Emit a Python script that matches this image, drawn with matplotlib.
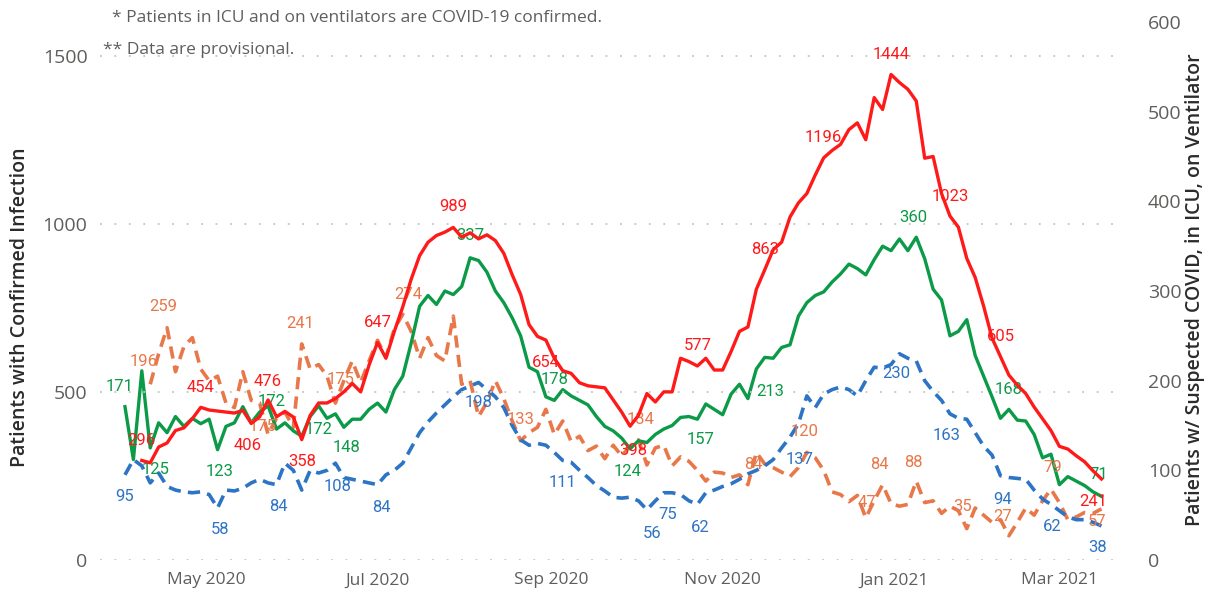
import numpy as np
import pandas as pd
import matplotlib
matplotlib.use("Agg")
import matplotlib.pyplot as plt
import matplotlib.dates as mdates

plt.rcParams['font.family'] = ['Open Sans', 'DejaVu Sans']

nan = np.nan
# ---------------- data (sampled every 3 days) ----------------
start_date = "2020-04-02"
n_points = 117

confirmed = [nan, nan, 296, 289, 336, 348, 385, 393, 420, 454, 446, 443, 440, 437, 445, 406,
             426, 476, 426, 442, 425, 358, 430, 467, 467, 480, 500, 525, 500, 580, 647, 600,
             680, 753, 835, 905, 945, 965, 975, 989, 960, 973, 955, 967, 950, 912, 848, 790,
             700, 665, 654, 600, 563, 555, 527, 518, 515, 512, 476, 440, 398, 430, 495, 470,
             500, 500, 600, 590, 577, 600, 565, 565, 620, 680, 693, 805, 863, 923, 945, 1020,
             1062, 1090, 1145, 1196, 1218, 1236, 1280, 1300, 1250, 1375, 1340, 1444, 1420, 1400,
             1365, 1195, 1200, 1090, 1023, 990, 897, 840, 755, 660, 605, 550, 520, 495, 455, 420,
             385, 338, 330, 310, 292, 265, 241]

icu = [171, 112, 211, 125, 153, 142, 160, 149, 158, 152, 157, 123, 149, 153, 171, 153, 165,
       172, 146, 153, 144, 138, 160, 172, 158, 163, 148, 157, 157, 168, 175, 165, 190, 205,
       242, 283, 295, 285, 300, 296, 305, 337, 334, 321, 300, 287, 270, 250, 215, 210, 182,
       178, 190, 183, 178, 173, 160, 149, 144, 136, 124, 133, 131, 140, 146, 150, 159, 160,
       157, 174, 168, 162, 185, 196, 180, 213, 226, 225, 237, 240, 272, 287, 295, 299, 310,
       319, 330, 325, 318, 335, 350, 345, 358, 345, 360, 336, 302, 290, 250, 255, 268, 228,
       205, 182, 158, 168, 156, 155, 140, 114, 118, 84, 93, 88, 83, 76, 71]

ventilator = [95, 112, 105, 86, 97, 82, 78, 76, 75, 76, 73, 58, 78, 77, 80, 86, 90, 86, 84,
              108, 100, 78, 100, 97, 100, 108, 92, 90, 88, 86, 84, 95, 100, 108, 125, 142, 154,
              164, 173, 182, 190, 194, 198, 190, 182, 170, 150, 134, 128, 130, 128, 120, 111,
              109, 100, 92, 83, 77, 70, 69, 70, 66, 56, 66, 75, 75, 73, 66, 62, 75, 78, 82, 85,
              90, 96, 100, 105, 112, 125, 137, 152, 183, 170, 185, 190, 193, 190, 183, 200, 215,
              214, 218, 230, 225, 222, 200, 188, 178, 163, 158, 157, 142, 127, 117, 94, 92, 91,
              90, 78, 68, 62, 55, 48, 45, 45, 42, 38]

suspected = [nan, nan, nan, 196, 230, 259, 210, 238, 248, 213, 200, 205, 175, 170, 210, 178,
             175, 140, 158, 165, 148, 241, 213, 218, 205, 175, 200, 222, 198, 222, 245, 226,
             258, 274, 255, 225, 248, 228, 222, 272, 196, 200, 160, 176, 200, 180, 155, 133,
             142, 148, 168, 140, 155, 132, 138, 122, 127, 113, 128, 116, 127, 134, 106, 125,
             128, 105, 115, 110, 100, 88, 98, 97, 92, 95, 84, 120, 107, 103, 98, 93, 103, 120,
             114, 100, 76, 73, 65, 72, 47, 66, 84, 63, 60, 62, 88, 64, 66, 52, 60, 55, 35, 58,
             50, 42, 45, 27, 42, 58, 50, 66, 79, 64, 45, 48, 53, 52, 57]

# labelled points: (index, dx px, dy px)
confirmed_labels = [(2, 0, 20), (9, 0, 20), (15, -4, -22), (17, 0, 18), (21, 0, -22), (30, 0, 20),
                    (39, 0, 21), (50, 0, -22), (60, 3, -24), (68, 0, 20), (76, 0, 20), (83, 0, 20),
                    (91, 0, 20), (98, 0, 20), (104, 0, 20), (116, -8, -23)]
icu_labels = [(0, -5, 20), (3, 5, -22), (11, 2, -22), (17, 4, 4), (23, 0, -24), (26, 3, -20),
              (41, 0, 22), (51, 0, 21), (60, -3, -23), (68, 3, -20), (75, 14, -22), (94, -3, 20),
              (105, 0, 20), (116, -3, 22)]
vent_labels = [(0, 0, -22), (11, 2, -22), (18, 2, -22), (25, 2, -23), (30, 4, -23), (42, 0, -20),
               (52, 0, -22), (62, 5, -24), (64, 4, -22), (68, 3, -23), (79, 10, -22), (92, -3, -20),
               (98, -3, -22), (104, 2, -24), (110, 1, -22), (116, -4, -22)]
susp_labels = [(3, -7, 23), (5, -4, 21), (16, 3, -23), (21, -2, 20), (25, 5, 24), (33, 5, 20),
               (47, 0, 21), (61, 2, 20), (74, 5, 20), (81, -2, 21), (88, 1, 15), (90, -3, 20),
               (94, -3, 19), (100, -4, 22), (105, -6, 19), (110, 2, 22), (116, -4, -13)]

tick_months = ["2020-05-01", "2020-07-01", "2020-09-01", "2020-11-01", "2021-01-01", "2021-03-01"]
left_ticks = [0, 500, 1000, 1500]
right_ticks = [0, 100, 200, 300, 400, 500, 600]

note1 = "* Patients in ICU and on ventilators are COVID-19 confirmed."
note2 = "** Data are provisional."
left_title = "Patients with Confirmed Infection"
right_title = "Patients w/ Suspected COVID, in ICU, on Ventilator"

# ---------------- styles ----------------
RED = "#FF1A1A"
GREEN = "#0B9A48"
BLUE = "#2D74C4"
ORANGE = "#E8784A"
TICK_C = "#605E5C"
TITLE_C = "#2B2B2B"

dates = pd.date_range(start_date, periods=n_points, freq="3D")

W, H = 1210, 592
fig = plt.figure(figsize=(W / 100, H / 100), dpi=100)
ax1 = fig.add_axes([100 / W, 32 / H, 1020 / W, 538 / H])
ax2 = ax1.twinx()

ax1.set_zorder(ax2.get_zorder() + 1)
ax1.patch.set_visible(False)

x0 = mdates.date2num(dates[0])
ax1.set_xlim(x0 - 8.9, x0 + 354.6)
ax1.set_ylim(0, 1600)
ax2.set_ylim(0, 600)

ax2.plot(dates, suspected, color=ORANGE, lw=2.6, ls=(0, (3.4, 2.0)), zorder=2)
ax2.plot(dates, ventilator, color=BLUE, lw=2.6, ls=(0, (3.4, 2.0)), zorder=3)
ax2.plot(dates, icu, color=GREEN, lw=2.4, zorder=4)
ax1.plot(dates, confirmed, color=RED, lw=2.4, zorder=5)

lab_kw = dict(textcoords="offset pixels", ha="center", va="center", fontsize=12,
              family=["Roboto", "DejaVu Sans"], zorder=10)

def put_labels(ax, values, specs, color):
    for i, dx, dy in specs:
        v = values[i]
        ax.annotate(f"{int(v)}", xy=(dates[i], v), xytext=(dx, dy), color=color, **lab_kw)

put_labels(ax2, suspected, susp_labels, ORANGE)
put_labels(ax2, ventilator, vent_labels, BLUE)
put_labels(ax2, icu, icu_labels, GREEN)
put_labels(ax1, confirmed, confirmed_labels, RED)

ax1.set_xticks([pd.Timestamp(t) for t in tick_months])
ax1.xaxis.set_major_formatter(mdates.DateFormatter("%b %Y"))
ax1.set_yticks(left_ticks)
ax2.set_yticks(right_ticks)

for ax in (ax1, ax2):
    for s in ax.spines.values():
        s.set_visible(False)
    ax.tick_params(length=0, colors=TICK_C)

ax1.tick_params(axis="x", labelsize=12.5, pad=9)
ax1.tick_params(axis="y", labelsize=14, pad=9)
ax2.tick_params(axis="y", labelsize=14, pad=20)

ax1.grid(axis="y", color="#C4C4C4", ls=(0, (1, 7)), lw=1.3)
ax1.grid(axis="x", visible=False)

fig.text(20 / W, 1 - 307 / H, left_title, rotation=90, ha="center", va="center",
         fontsize=14, color=TITLE_C, fontweight="semibold")
fig.text(1195 / W, 1 - 290 / H, right_title, rotation=90, ha="center", va="center",
         fontsize=14, color=TITLE_C, fontweight="semibold")

fig.text(112 / W, 1 - 18 / H, note1, ha="left", va="center", fontsize=12.5, color=TICK_C)
fig.text(103 / W, 1 - 50 / H, note2, ha="left", va="center", fontsize=12.5, color=TICK_C)

fig.savefig("out.png", dpi=100)
